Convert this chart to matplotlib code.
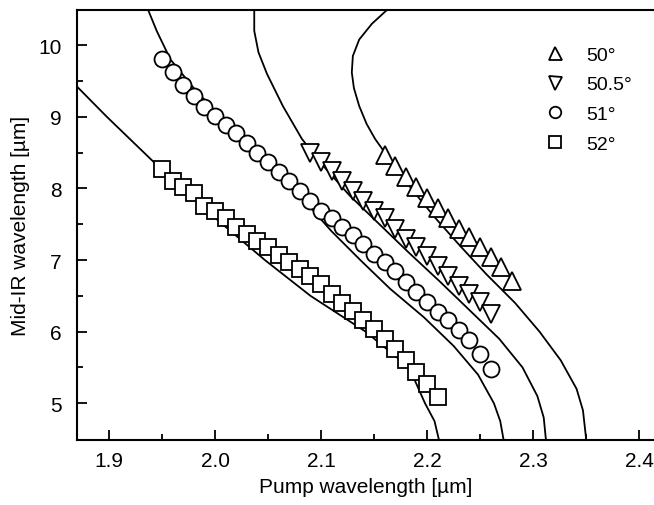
import numpy as np
import matplotlib.pyplot as plt

plt.rcParams['font.family'] = ['Liberation Sans', 'DejaVu Sans']

# measured points (pump wavelength, mid-IR wavelength), in um
pump_52 = [1.95, 1.96, 1.97, 1.98, 1.99, 2.00, 2.01, 2.02, 2.03, 2.04, 2.05, 2.06, 2.07, 2.08,
           2.09, 2.10, 2.11, 2.12, 2.13, 2.14, 2.15, 2.16, 2.17, 2.18, 2.19, 2.20, 2.21]
mir_52 = [8.27, 8.10, 8.02, 7.93, 7.76, 7.68, 7.58, 7.46, 7.36, 7.27, 7.18, 7.07, 6.97, 6.87,
          6.77, 6.66, 6.52, 6.40, 6.29, 6.16, 6.03, 5.90, 5.76, 5.60, 5.43, 5.27, 5.08]

pump_51 = [1.95, 1.96, 1.97, 1.98, 1.99, 2.00, 2.01, 2.02, 2.03, 2.04, 2.05, 2.06, 2.07, 2.08,
           2.09, 2.10, 2.11, 2.12, 2.13, 2.14, 2.15, 2.16, 2.17, 2.18, 2.19, 2.20, 2.21, 2.22,
           2.23, 2.24, 2.25, 2.26]
mir_51 = [9.81, 9.62, 9.45, 9.29, 9.14, 9.01, 8.88, 8.77, 8.63, 8.49, 8.37, 8.23, 8.11, 7.97,
          7.83, 7.69, 7.58, 7.46, 7.35, 7.23, 7.09, 6.97, 6.85, 6.69, 6.55, 6.41, 6.27, 6.16,
          6.02, 5.88, 5.69, 5.48]

pump_505 = [2.09, 2.10, 2.11, 2.12, 2.13, 2.14, 2.15, 2.16, 2.17, 2.18, 2.19, 2.20, 2.21,
            2.22, 2.23, 2.24, 2.25, 2.26]
mir_505 = [8.49, 8.37, 8.25, 8.11, 7.97, 7.83, 7.69, 7.58, 7.44, 7.30, 7.18, 7.06, 6.92,
           6.78, 6.64, 6.53, 6.41, 6.25]

pump_50 = [2.16, 2.17, 2.18, 2.19, 2.20, 2.21, 2.22, 2.23, 2.24, 2.25, 2.26, 2.27, 2.28]
mir_50 = [8.46, 8.32, 8.16, 8.02, 7.86, 7.72, 7.58, 7.44, 7.32, 7.18, 7.04, 6.90, 6.71]

# calculated tuning curves (pump, mid-IR)
calc_52_x = [1.870, 1.898, 1.933, 1.968, 2.007, 2.047, 2.090, 2.142, 2.183, 2.198, 2.207, 2.211]
calc_52_y = [9.42, 9.0, 8.5, 8.0, 7.5, 7.0, 6.5, 6.0, 5.5, 5.0, 4.75, 4.5]

calc_51_x = [1.937, 1.945, 1.958, 1.980, 2.005, 2.030, 2.058, 2.086, 2.110, 2.137, 2.165,
             2.197, 2.225, 2.248, 2.263, 2.269, 2.272]
calc_51_y = [10.49, 10.2, 9.8, 9.4, 9.0, 8.6, 8.2, 7.8, 7.4, 7.0, 6.6, 6.2, 5.8, 5.4, 5.0,
             4.75, 4.5]

calc_505_x = [2.037, 2.037, 2.041, 2.049, 2.064, 2.082, 2.103, 2.127, 2.155, 2.183, 2.212,
              2.240, 2.268, 2.290, 2.304, 2.310, 2.312]
calc_505_y = [10.49, 10.2, 9.9, 9.6, 9.15, 8.69, 8.3, 7.9, 7.5, 7.1, 6.7, 6.3, 5.9, 5.5, 5.1,
              4.8, 4.5]

calc_50_x = [2.162, 2.148, 2.136, 2.130, 2.129, 2.131, 2.136, 2.143, 2.151, 2.165, 2.185,
             2.207, 2.231, 2.256, 2.283, 2.306, 2.326, 2.341, 2.347, 2.350]
calc_50_y = [10.49, 10.3, 10.08, 9.85, 9.62, 9.4, 9.15, 8.9, 8.69, 8.4, 8.0, 7.6, 7.2, 6.8,
             6.4, 6.0, 5.6, 5.2, 4.9, 4.5]

fig = plt.figure(figsize=(6.54, 5.06), dpi=100)
ax = fig.add_axes([0.118, 0.129, 0.882, 0.849])

for cx, cy in [(calc_52_x, calc_52_y), (calc_51_x, calc_51_y),
               (calc_505_x, calc_505_y), (calc_50_x, calc_50_y)]:
    ax.plot(cx, cy, color='black', lw=1.3, zorder=2)

mk = dict(linestyle='none', mfc='white', mec='black', mew=1.3, zorder=3)
ax.plot(pump_50, mir_50, marker='^', ms=13, label='50°', **mk)
ax.plot(pump_505, mir_505, marker='v', ms=13, label='50.5°', **mk)
ax.plot(pump_51, mir_51, marker='o', ms=11.5, label='51°', **mk)
ax.plot(pump_52, mir_52, marker='s', ms=11.5, label='52°', **mk)

ax.set_xlim(1.870, 2.414)
ax.set_ylim(4.49, 10.49)
ax.set_xticks([1.9, 2.0, 2.1, 2.2, 2.3, 2.4])
ax.set_xticklabels(['1.9', '2.0', '2.1', '2.2', '2.3', '2.4'])
ax.set_xticks(np.arange(1.95, 2.4, 0.1), minor=True)
ax.set_yticks([5, 6, 7, 8, 9, 10])
ax.set_yticks([5.5, 6.5, 7.5, 8.5, 9.5], minor=True)
ax.tick_params(which='both', direction='in', top=False, right=False, labelsize=15, width=1.3)
ax.tick_params(which='major', length=7)
ax.tick_params(which='minor', length=4)
ax.tick_params(axis='x', pad=8)
ax.tick_params(axis='y', pad=11)
ax.spines['right'].set_visible(False)
for s in ['left', 'bottom', 'top']:
    ax.spines[s].set_linewidth(1.5)

ax.set_xlabel('Pump wavelength [µm]', fontsize=15, labelpad=5)
ax.set_ylabel('Mid-IR wavelength [µm]', fontsize=15, labelpad=6)

leg = ax.legend(loc='upper left', bbox_to_anchor=(0.781, 0.957), frameon=False, fontsize=14,
                handlelength=1.0, handletextpad=1.1, labelspacing=0.62, markerscale=0.72)

fig.savefig('out.png', dpi=100)
